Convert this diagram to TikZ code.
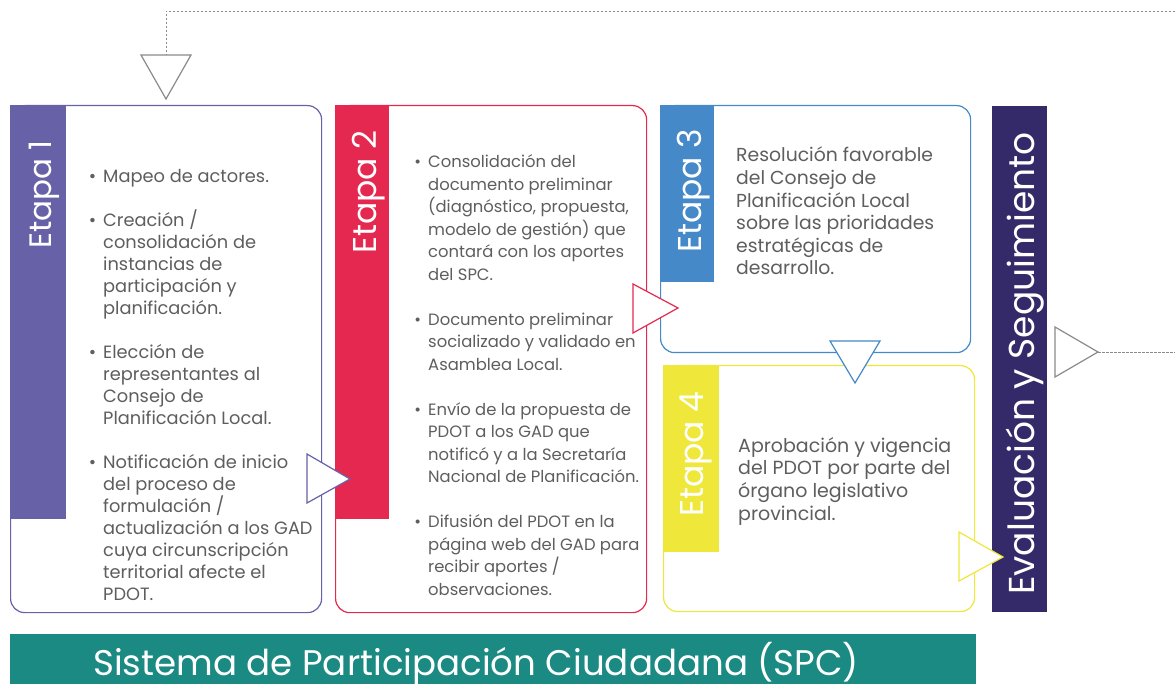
\documentclass[tikz,border=0pt]{standalone}
\usepackage{fontspec}
\setmainfont{Poppins}
\usetikzlibrary{calc}
\definecolor{cpurple}{HTML}{6761A8}
\definecolor{cred}{HTML}{E5284F}
\definecolor{cblue}{HTML}{4589C8}
\definecolor{cyellow}{HTML}{EFE739}
\definecolor{cdark}{HTML}{352A69}
\definecolor{cteal}{HTML}{1A8A82}
\definecolor{cgray}{HTML}{8A8A8A}
\definecolor{ctext}{HTML}{5E5E5E}
\newcommand\itm{\llap{\textbullet\hspace{7pt}}}
\tikzset{
  stagebox/.style={draw=#1, line width=1.2pt, rounded corners=14pt, fill=white,
    anchor=north west, inner sep=0pt},
  stagebar/.style={fill=#1, anchor=north west, inner sep=0pt, draw=none},
  stagelabel/.style={rotate=90, anchor=base west, text=white, inner sep=0pt,
    font=\fontsize{33}{33}\selectfont},
  bodytext/.style={anchor=base west, align=left, inner sep=0pt, text=ctext,
    font=\fontsize{16.4}{22.5}\selectfont},
  tri/.style={draw=#1, fill=white, line width=1.2pt, line join=miter},
  dashline/.style={draw=cgray, line width=0.8pt, dash pattern=on 2.5pt off 1.5pt},
}
\begin{document}
\begin{tikzpicture}[x=1pt,y=-1pt]
\useasboundingbox (0,0) rectangle (1175,684);

% ---- boxes
\node[stagebox=cpurple, minimum width=311pt, minimum height=507pt] (box1) at (10,105) {};
\node[stagebox=cred, minimum width=311pt, minimum height=507pt] (box2) at (335,105) {};
\node[stagebox=cblue, minimum width=310pt, minimum height=247pt] (box3) at (660,105) {};
\node[stagebox=cyellow, minimum width=311pt, minimum height=246pt] (box4) at (663,365) {};

% ---- bars
\node[stagebar=cpurple, minimum width=56pt, minimum height=414pt] (bar1) at (9.4,104.4) {};
\node[stagebar=cred, minimum width=54pt, minimum height=414pt] (bar2) at (334.4,104.4) {};
\node[stagebar=cblue, minimum width=54pt, minimum height=177pt] (bar3) at (659.4,104.4) {};
\node[stagebar=cyellow, minimum width=56pt, minimum height=187pt] (bar4) at (662.4,364.4) {};
\node[stagebar=cdark, minimum width=55pt, minimum height=506pt] (bar5) at (992,106) {};
\node[stagebar=cteal, minimum width=966pt, minimum height=52pt] (spc) at (10,634) {};

% ---- labels
\node[stagelabel, font=\fontsize{31}{31}\selectfont] (lab1) at (51,249) {Etapa 1};
\node[stagelabel] (lab2) at (376,254) {Etapa 2};
\node[stagelabel] (lab3) at (701,253) {Etapa 3};
\node[stagelabel] (lab4) at (703,517) {Etapa 4};
\node[stagelabel, font=\fontsize{36}{36}\selectfont] (lab5) at (1034,595) {Evaluación y Seguimiento};
\node[anchor=base west, text=white, inner sep=0pt, font=\fontsize{35.6}{36}\selectfont] (labspc) at (93,675)
  {Sistema de Participación Ciudadana (SPC)};

% ---- body texts (anchor = baseline of the last line)
\node[bodytext, font=\fontsize{17.8}{22}\selectfont] (txt1) at (103,600) {%
\itm Mapeo de actores.\\[22pt]
\itm Creación /\\
consolidación de\\
instancias de\\
participación y\\
planificación.\\[22pt]
\itm Elección de\\
representantes al\\
Consejo de\\
Planificación Local.\\[22pt]
\itm Notificación de inicio\\
del proceso de\\
formulación /\\
actualización a los GAD\\
cuya circunscripción\\
territorial afecte el\\
PDOT.};

\node[bodytext] (txt2) at (428,595) {%
\itm Consolidación del\\
documento preliminar\\
(diagnóstico, propuesta,\\
modelo de gestión) que\\
contará con los aportes\\
del SPC.\\[22.5pt]
\itm Documento preliminar\\
socializado y validado en\\
Asamblea Local.\\[22.5pt]
\itm Envío de la propuesta de\\
PDOT a los GAD que\\
notificó y a la Secretaría\\
Nacional de Planificación.\\[22.5pt]
\itm Difusión del PDOT en la\\
página web del GAD para\\
recibir aportes /\\
observaciones.};

\node[bodytext, font=\fontsize{18.8}{22.6}\selectfont] (txt3) at (736,275) {%
Resolución favorable\\
del Consejo de\\
Planificación Local\\
sobre las prioridades\\
estratégicas de\\
desarrollo.};

\node[bodytext, font=\fontsize{19}{22.6}\selectfont] (txt4) at (738,520) {%
Aprobación y vigencia\\
del PDOT por parte del\\
órgano legislativo\\
provincial.};

% ---- connector coordinates
\coordinate (topR) at (1175,11);
\coordinate (topL) at (166,11);
\coordinate (tri0top) at (166,55);
\coordinate (tri5tip) at (1098,352);
\coordinate (rightR) at (1175,352);

% ---- dashed connectors
\draw[dashline] (topR) -- (topL) -- (tri0top);
\draw[dashline] (tri5tip) -- (rightR);

% ---- triangles
\draw[tri=cgray] (141,55) -- (191,55) -- (166,99) -- cycle;
\draw[tri=cgray] (1055,327) -- (tri5tip) -- (1055,377) -- cycle;
\draw[tri=cpurple] (307,454) -- (350,479) -- (307,503) -- cycle;
\draw[tri=cred] (633,284) -- (678,308) -- (633,333) -- cycle;
\draw[tri=cblue] (830,341) -- (880,341) -- (855,383) -- cycle;
\draw[tri=cyellow] (959,532) -- (1003,557) -- (959,581) -- cycle;
\end{tikzpicture}
\end{document}
